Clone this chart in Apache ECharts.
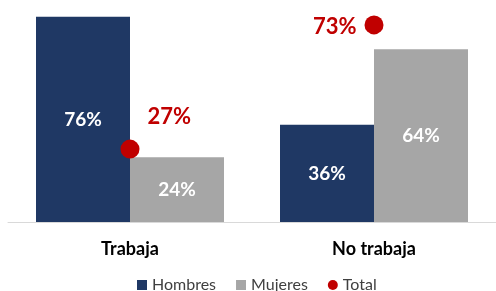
<!DOCTYPE html>
<html>
<head>
<meta charset="utf-8">
<script src="https://cdn.jsdelivr.net/npm/echarts@6/dist/echarts.min.js"></script>
<style>
  html, body { margin: 0; padding: 0; background: #fff; }
  #chart { width: 496px; height: 291px; }
</style>
</head>
<body>
<div id="chart"></div>
<script>
const categories = ['Trabaja', 'No trabaja'];
const hombres = [76, 36];
const mujeres = [24, 64];
const total = [27, 73];

const chart = echarts.init(document.getElementById('chart'));
const font = 'Lato, "Open Sans", sans-serif';

const barLabel = {
  show: true,
  position: 'inside',
  color: '#fff',
  fontWeight: 'bold',
  fontSize: 19,
  fontFamily: font,
  formatter: '{c}%',
};

chart.setOption({
  animation: false,
  grid: { left: 8, right: -2, top: 6, bottom: 69 },
  legend: {
    top: 272,
    left: 132,
    itemWidth: 10,
    itemHeight: 10,
    itemGap: 20,
    textStyle: { fontSize: 16, color: '#404040', fontFamily: font },
    data: [
      { name: 'Hombres', icon: 'rect' },
      { name: 'Mujeres', icon: 'rect' },
      { name: 'Total', icon: 'circle' },
    ],
  },
  xAxis: {
    type: 'category',
    data: categories,
    axisLine: { lineStyle: { color: '#d9d9d9', width: 1 } },
    axisTick: { show: false },
    axisLabel: {
      color: '#000',
      fontWeight: 'bold',
      fontSize: 18,
      fontFamily: font,
      margin: 18,
    },
  },
  yAxis: {
    type: 'value',
    min: 0,
    max: 80,
    show: false,
    splitLine: { show: false },
  },
  series: [
    {
      name: 'Hombres',
      type: 'bar',
      data: hombres,
      barWidth: 94,
      barGap: '0%',
      itemStyle: { color: '#1f3864' },
      label: barLabel,
    },
    {
      name: 'Mujeres',
      type: 'bar',
      data: mujeres,
      barWidth: 94,
      itemStyle: { color: '#a6a6a6' },
      label: barLabel,
    },
    {
      name: 'Total',
      type: 'scatter',
      symbol: 'circle',
      symbolSize: 19,
      itemStyle: { color: '#c00000', opacity: 1 },
      z: 5,
      label: {
        show: true,
        color: '#c00000',
        fontWeight: 'bold',
        fontSize: 22,
        fontFamily: font,
        formatter: '{c}%',
      },
      data: [
        { value: total[0], label: { position: 'right', distance: 5, offset: [3, -32] } },
        { value: total[1], label: { position: 'left', distance: 8, offset: [0, 2] } },
      ],
    },
  ],
});
</script>
</body>
</html>
